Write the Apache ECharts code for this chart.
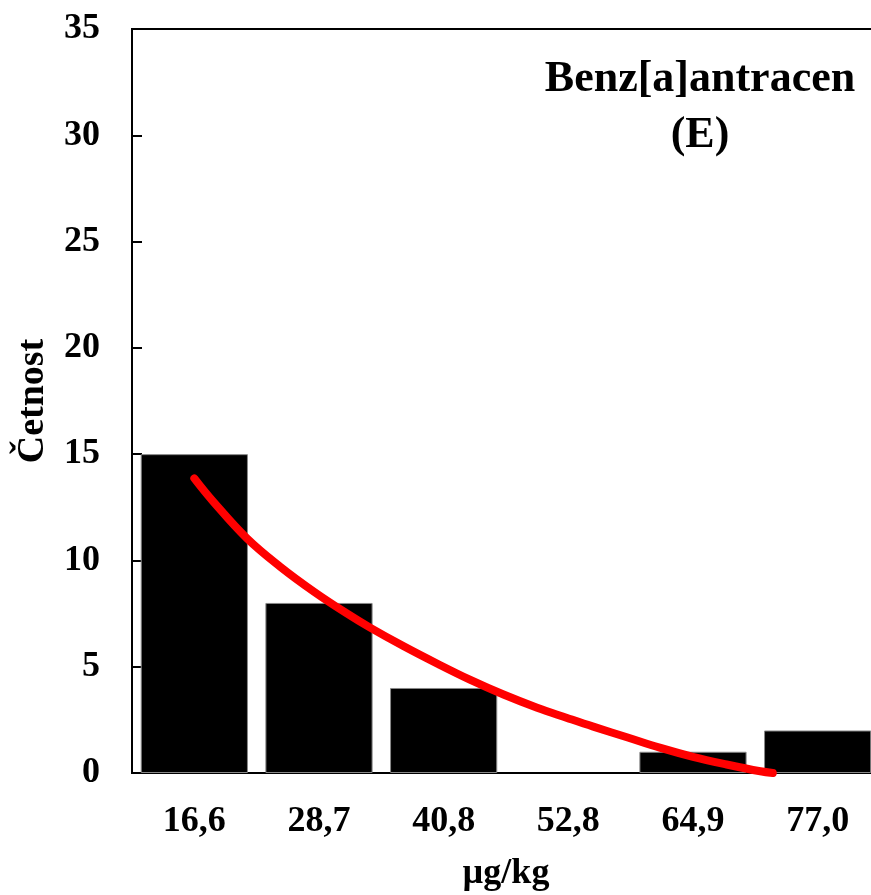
<!DOCTYPE html>
<html>
<head>
<meta charset="utf-8">
<script src="https://cdn.jsdelivr.net/npm/echarts@6/dist/echarts.min.js"></script>
<style>html,body{margin:0;padding:0;background:#fff}#c{width:871px;height:895px}</style>
</head>
<body>
<div id="c"></div>
<script>
const categories = ['16,6', '28,7', '40,8', '52,8', '64,9', '77,0'];
const counts = [15, 8, 4, 0, 1, 2];
// red fitted curve: x = category position (0 = first bar centre), y = value
const curveX = [0.0, 0.15, 0.42, 0.69, 0.96, 1.22, 1.41, 1.68, 1.95, 2.21, 2.48, 2.75, 2.99, 3.20, 3.47, 3.74, 4.00, 4.27, 4.54, 4.64];
const curveY = [13.86, 12.78, 11.05, 9.70, 8.53, 7.52, 6.84, 5.96, 5.14, 4.39, 3.69, 3.07, 2.59, 2.18, 1.68, 1.18, 0.76, 0.40, 0.08, 0.0];
const yTicks = [0, 5, 10, 15, 20, 25, 30, 35];
const titleText = 'Benz[a]antracen\n(E)';
const xName = 'µg/kg';
const yName = 'Četnost';

const font = 'Liberation Serif';
const chart = echarts.init(document.getElementById('c'));
chart.setOption({
  animation: false,
  grid: { left: 132, top: 29, width: 748, height: 744, show: true, borderColor: '#000', borderWidth: 2, containLabel: false, outerBoundsMode: 'none' },
  xAxis: [{
    type: 'category', data: categories, boundaryGap: true,
    axisLine: { show: true, lineStyle: { color: '#000', width: 2 } },
    axisTick: { show: false },
    axisLabel: { color: '#000', fontFamily: font, fontWeight: 'bold', fontSize: 36, margin: 31 },
    name: xName, nameLocation: 'middle', nameGap: 83,
    nameTextStyle: { color: '#000', fontFamily: font, fontWeight: 'bold', fontSize: 36 }
  }, {
    type: 'value', min: -0.5, max: 5.5, show: false, position: 'bottom'
  }],
  yAxis: {
    type: 'value', min: yTicks[0], max: yTicks[yTicks.length - 1], interval: 5,
    axisLine: { show: true, onZero: false, lineStyle: { color: '#000', width: 2 } },
    axisTick: { show: true, inside: true, length: 10, lineStyle: { color: '#000', width: 2 } },
    splitLine: { show: false },
    axisLabel: { color: '#000', fontFamily: font, fontWeight: 'bold', fontSize: 36, margin: 32 },
    name: yName, nameLocation: 'middle', nameGap: 80, nameRotate: 90,
    nameTextStyle: { color: '#000', fontFamily: font, fontWeight: 'bold', fontSize: 38 }
  },
  series: [{
    type: 'bar', xAxisIndex: 0, barCategoryGap: '14%',
    data: counts.map(v => v === 0 ? { value: v, itemStyle: { borderWidth: 0 } } : v),
    itemStyle: { color: '#000', borderColor: '#888', borderWidth: 1 }
  }, {
    type: 'line', xAxisIndex: 1, data: curveX.map((x, i) => [x, curveY[i]]),
    smooth: 0.4, showSymbol: false, symbol: 'none',
    lineStyle: { color: '#ff0000', width: 8, cap: 'round', join: 'round' }, z: 5
  }],
  graphic: [{
    type: 'text', x: 700, y: 52,
    style: { text: titleText, fill: '#000', font: 'bold 44px "Liberation Serif"', align: 'center', verticalAlign: 'top', lineHeight: 56 }
  }]
});
</script>
</body>
</html>
